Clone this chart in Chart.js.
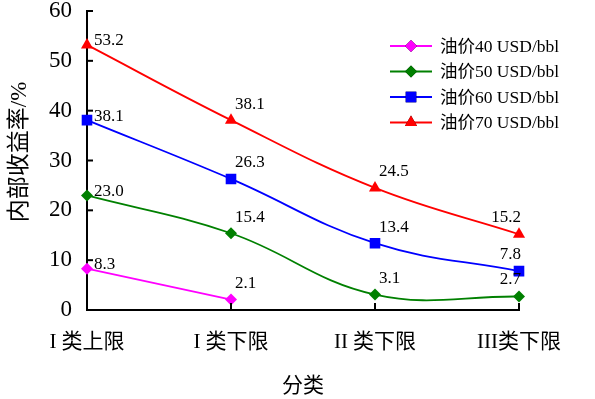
<!DOCTYPE html>
<html><head><meta charset="utf-8">
<script src="https://cdn.jsdelivr.net/npm/chart.js@4"></script>
<style>html,body{margin:0;padding:0;background:#fff}#w{width:595px;height:399px}</style>
</head><body><div id="w"><canvas id="c"></canvas></div>
<script>
const categories = ['I 类上限', 'I 类下限', 'II 类下限', 'III类下限'];
const seriesNames = ['油价40 USD/bbl', '油价50 USD/bbl', '油价60 USD/bbl', '油价70 USD/bbl'];
const oil40 = [8.3, 2.1, null, null];
const oil50 = [23.0, 15.4, 3.1, 2.7];
const oil60 = [38.1, 26.3, 13.4, 7.8];
const oil70 = [53.2, 38.1, 24.5, 15.2];
const yTicks = [0, 10, 20, 30, 40, 50, 60];

const FONT = "'Liberation Serif', 'Noto Sans CJK SC', serif";
const colors = ['#FF00FF', '#008000', '#0000FF', '#FF0000'];
const styles = ['rectRot', 'rectRot', 'rect', 'triangle'];
const radii = [6, 6, 7.5, 7];
const allData = [oil40, oil50, oil60, oil70];

const datasets = allData.map((d, i) => ({
  label: seriesNames[i], data: d,
  borderColor: colors[i], backgroundColor: colors[i],
  borderWidth: 1.8, pointStyle: styles[i], pointRadius: radii[i],
  pointBorderWidth: 0, tension: i === 0 ? 0 : 0.4, fill: false
}));

const deco = {
  id: 'deco',
  afterDatasetsDraw(chart) {
    const ctx = chart.ctx, x = chart.scales.x, y = chart.scales.y;
    ctx.save();
    ctx.strokeStyle = '#000'; ctx.lineWidth = 2;
    yTicks.forEach(v => {
      const py = y.getPixelForValue(v);
      ctx.beginPath(); ctx.moveTo(x.left, py); ctx.lineTo(x.left + 6, py); ctx.stroke();
    });
    categories.forEach((c, i) => {
      const px = x.getPixelForValue(i);
      ctx.beginPath(); ctx.moveTo(px, y.bottom); ctx.lineTo(px, y.bottom - 7); ctx.stroke();
    });
    ctx.fillStyle = '#000'; ctx.font = '17px ' + FONT; ctx.textBaseline = 'middle';
    chart.data.datasets.forEach((ds, di) => {
      ds.data.forEach((v, i) => {
        if (v === null) return;
        const px = x.getPixelForValue(i), py = y.getPixelForValue(v);
        const t = v.toFixed(1);
        if (i === 0) { ctx.textAlign = 'left'; ctx.fillText(t, px + 7, py - 4); }
        else if (i === categories.length - 1) { ctx.textAlign = 'right'; ctx.fillText(t, px + 2, py - 17); }
        else { ctx.textAlign = 'left'; ctx.fillText(t, px + 4, py - 16); }
      });
    });
    const lx = 390, ly0 = 46, dy = 25.5;
    chart.data.datasets.forEach((ds, di) => {
      const ly = ly0 + di * dy;
      ctx.strokeStyle = ds.borderColor; ctx.lineWidth = 1.8;
      ctx.beginPath(); ctx.moveTo(lx, ly); ctx.lineTo(lx + 42, ly); ctx.stroke();
      Chart.helpers.drawPoint(ctx, { pointStyle: ds.pointStyle, radius: ds.pointRadius, borderWidth: 0 }, lx + 21, ly);
      ctx.fillStyle = ds.borderColor; ctx.fill();
      ctx.fillStyle = '#000'; ctx.textAlign = 'left'; ctx.font = '17.5px ' + FONT;
      ctx.fillText(ds.label, lx + 50, ly + 1);
    });
    ctx.restore();
  }
};

new Chart(document.getElementById('c'), {
  type: 'line',
  data: { labels: categories, datasets },
  options: {
    responsive: true, maintainAspectRatio: false, animation: false,
    layout: { padding: { top: 0, right: 76, bottom: 0, left: 0 } },
    plugins: { legend: { display: false }, tooltip: { enabled: false } },
    scales: {
      x: {
        offset: false,
        grid: { display: false, drawTicks: false },
        border: { display: true, color: '#000', width: 2 },
        ticks: { color: '#000', font: { family: FONT, size: 21 }, padding: 20, maxRotation: 0, autoSkip: false },
        title: { display: true, text: '分类', color: '#000', font: { family: FONT, size: 21 }, padding: { top: 21, bottom: 0 } },
        afterFit(s) { s.height = 89; }
      },
      y: {
        min: 0, max: 60,
        afterBuildTicks(s) { s.ticks = yTicks.map(v => ({ value: v })); },
        grid: { display: false, drawTicks: false },
        border: { display: true, color: '#000', width: 2 },
        ticks: { color: '#000', font: { family: FONT, size: 23 }, padding: 15 },
        title: { display: true, text: '   内部收益率/%', color: '#000', font: { family: FONT, size: 23 }, padding: { top: 6, bottom: 0 } },
        afterFit(s) { s.width = 87; s.paddingTop = 11; s.paddingBottom = 0; }
      }
    }
  },
  plugins: [deco]
});
</script></body></html>
